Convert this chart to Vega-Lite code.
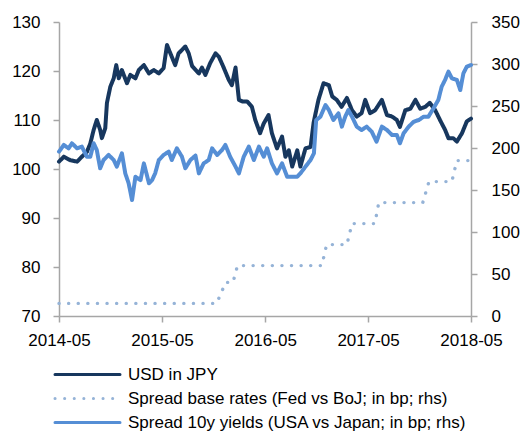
{
  "$schema": "https://vega.github.io/schema/vega-lite/v6.json",
  "width": 412,
  "height": 294,
  "autosize": {"type": "none"},
  "padding": {"left": 59, "top": 22, "right": 50, "bottom": 118},
  "config": {
    "view": {"stroke": null},
    "font": "Liberation Sans",
    "axis": {
      "labelFont": "Liberation Sans",
      "labelFontSize": 17,
      "labelColor": "#000000",
      "domainColor": "#A6A6A6",
      "domainWidth": 1.5,
      "tickColor": "#A6A6A6",
      "tickWidth": 1.5,
      "tickSize": 6,
      "grid": false,
      "title": null
    }
  },
  "layer": [
    {
      "data": {"values": [
        {"d": "2014-05-01", "s": "usd", "v": 101.5},
        {"d": "2014-05-18", "s": "usd", "v": 102.5},
        {"d": "2014-06-10", "s": "usd", "v": 101.8},
        {"d": "2014-07-04", "s": "usd", "v": 101.5},
        {"d": "2014-07-21", "s": "usd", "v": 102.5},
        {"d": "2014-08-08", "s": "usd", "v": 103.5},
        {"d": "2014-08-20", "s": "usd", "v": 105.2},
        {"d": "2014-09-01", "s": "usd", "v": 108},
        {"d": "2014-09-12", "s": "usd", "v": 110},
        {"d": "2014-09-24", "s": "usd", "v": 108},
        {"d": "2014-09-30", "s": "usd", "v": 106.3},
        {"d": "2014-10-12", "s": "usd", "v": 108.3},
        {"d": "2014-10-18", "s": "usd", "v": 113.5},
        {"d": "2014-10-30", "s": "usd", "v": 116.8},
        {"d": "2014-11-11", "s": "usd", "v": 118.5},
        {"d": "2014-11-20", "s": "usd", "v": 121.2},
        {"d": "2014-11-29", "s": "usd", "v": 118.5},
        {"d": "2014-12-10", "s": "usd", "v": 120.2},
        {"d": "2014-12-28", "s": "usd", "v": 117.5},
        {"d": "2015-01-09", "s": "usd", "v": 119.2},
        {"d": "2015-01-27", "s": "usd", "v": 118.5},
        {"d": "2015-02-08", "s": "usd", "v": 120.2},
        {"d": "2015-02-26", "s": "usd", "v": 121.2},
        {"d": "2015-03-16", "s": "usd", "v": 119.5},
        {"d": "2015-04-02", "s": "usd", "v": 120.2},
        {"d": "2015-04-20", "s": "usd", "v": 119.5},
        {"d": "2015-05-07", "s": "usd", "v": 120.6},
        {"d": "2015-05-19", "s": "usd", "v": 125.3},
        {"d": "2015-05-31", "s": "usd", "v": 123.6},
        {"d": "2015-06-17", "s": "usd", "v": 121.2},
        {"d": "2015-06-29", "s": "usd", "v": 123.6},
        {"d": "2015-07-23", "s": "usd", "v": 125},
        {"d": "2015-08-04", "s": "usd", "v": 123.6},
        {"d": "2015-08-16", "s": "usd", "v": 121},
        {"d": "2015-09-09", "s": "usd", "v": 119.5},
        {"d": "2015-09-20", "s": "usd", "v": 120.7},
        {"d": "2015-10-02", "s": "usd", "v": 119.2},
        {"d": "2015-10-19", "s": "usd", "v": 121.6},
        {"d": "2015-11-07", "s": "usd", "v": 123.6},
        {"d": "2015-11-19", "s": "usd", "v": 122.9},
        {"d": "2015-12-06", "s": "usd", "v": 120.7},
        {"d": "2015-12-24", "s": "usd", "v": 118.2},
        {"d": "2016-01-04", "s": "usd", "v": 117.1},
        {"d": "2016-01-17", "s": "usd", "v": 120.7},
        {"d": "2016-01-29", "s": "usd", "v": 114.1},
        {"d": "2016-02-10", "s": "usd", "v": 113.8},
        {"d": "2016-02-27", "s": "usd", "v": 113.8},
        {"d": "2016-03-15", "s": "usd", "v": 112.7},
        {"d": "2016-03-27", "s": "usd", "v": 110},
        {"d": "2016-04-13", "s": "usd", "v": 107.3},
        {"d": "2016-04-26", "s": "usd", "v": 109.3},
        {"d": "2016-05-13", "s": "usd", "v": 111},
        {"d": "2016-05-25", "s": "usd", "v": 107.3},
        {"d": "2016-06-12", "s": "usd", "v": 104.2},
        {"d": "2016-06-30", "s": "usd", "v": 106.6},
        {"d": "2016-07-12", "s": "usd", "v": 102.5},
        {"d": "2016-07-24", "s": "usd", "v": 103.8},
        {"d": "2016-08-05", "s": "usd", "v": 100.5},
        {"d": "2016-08-23", "s": "usd", "v": 103.8},
        {"d": "2016-09-03", "s": "usd", "v": 100.5},
        {"d": "2016-09-21", "s": "usd", "v": 104.2},
        {"d": "2016-10-09", "s": "usd", "v": 104.5},
        {"d": "2016-10-20", "s": "usd", "v": 109.5},
        {"d": "2016-11-06", "s": "usd", "v": 114.1},
        {"d": "2016-11-24", "s": "usd", "v": 117.5},
        {"d": "2016-12-13", "s": "usd", "v": 117.1},
        {"d": "2016-12-25", "s": "usd", "v": 114.8},
        {"d": "2017-01-10", "s": "usd", "v": 114.1},
        {"d": "2017-01-27", "s": "usd", "v": 112.7},
        {"d": "2017-02-15", "s": "usd", "v": 114.5},
        {"d": "2017-03-05", "s": "usd", "v": 112},
        {"d": "2017-03-22", "s": "usd", "v": 110.7},
        {"d": "2017-04-08", "s": "usd", "v": 111.4},
        {"d": "2017-04-21", "s": "usd", "v": 114.1},
        {"d": "2017-05-08", "s": "usd", "v": 111.4},
        {"d": "2017-05-26", "s": "usd", "v": 112},
        {"d": "2017-06-19", "s": "usd", "v": 114.1},
        {"d": "2017-07-07", "s": "usd", "v": 111},
        {"d": "2017-07-25", "s": "usd", "v": 110.7},
        {"d": "2017-08-11", "s": "usd", "v": 110},
        {"d": "2017-08-22", "s": "usd", "v": 108.6},
        {"d": "2017-09-10", "s": "usd", "v": 112},
        {"d": "2017-09-28", "s": "usd", "v": 112.3},
        {"d": "2017-10-16", "s": "usd", "v": 114.1},
        {"d": "2017-11-02", "s": "usd", "v": 112.3},
        {"d": "2017-11-20", "s": "usd", "v": 112.7},
        {"d": "2017-12-06", "s": "usd", "v": 113.5},
        {"d": "2017-12-25", "s": "usd", "v": 112},
        {"d": "2018-01-11", "s": "usd", "v": 110},
        {"d": "2018-01-29", "s": "usd", "v": 108},
        {"d": "2018-02-10", "s": "usd", "v": 106.3},
        {"d": "2018-02-27", "s": "usd", "v": 106.3},
        {"d": "2018-03-12", "s": "usd", "v": 105.6},
        {"d": "2018-03-30", "s": "usd", "v": 107.3},
        {"d": "2018-04-16", "s": "usd", "v": 109.7},
        {"d": "2018-05-01", "s": "usd", "v": 110.3}
      ]},
      "mark": {"type": "line", "strokeWidth": 4, "strokeCap": "round", "strokeJoin": "round"},
      "encoding": {
        "x": {
          "field": "d", "type": "temporal",
          "scale": {"type": "utc", "domain": [{"year": 2014, "month": 5, "date": 1, "utc": true}, {"year": 2018, "month": 5, "date": 1, "utc": true}]},
          "axis": {
            "values": [
              {"year": 2014, "month": 5, "date": 1, "utc": true},
              {"year": 2015, "month": 5, "date": 1, "utc": true},
              {"year": 2016, "month": 5, "date": 1, "utc": true},
              {"year": 2017, "month": 5, "date": 1, "utc": true},
              {"year": 2018, "month": 5, "date": 1, "utc": true}
            ],
            "format": "%Y-%m", "labelPadding": 10, "labelFlush": false, "labelOverlap": false
          }
        },
        "y": {
          "field": "v", "type": "quantitative",
          "scale": {"domain": [70, 130], "nice": false, "zero": false},
          "axis": {"orient": "left", "values": [70, 80, 90, 100, 110, 120, 130], "labelPadding": 13}
        },
        "color": {
          "field": "s", "type": "nominal",
          "scale": {"domain": ["usd", "base", "y10"], "range": ["#17375E", "#95B3D7", "#558ED5"]},
          "legend": {
            "orient": "none", "legendX": 20, "legendY": 344, "title": null, "direction": "vertical",
            "labelFont": "Liberation Sans", "labelFontSize": 17, "labelColor": "#000000", "labelLimit": 600,
            "symbolType": "M-5,0H5", "symbolSize": 169, "symbolStrokeWidth": 3, "rowPadding": 6, "labelOffset": 32,
            "labelExpr": "datum.value == 'usd' ? 'USD in JPY' : datum.value == 'base' ? 'Spread base rates (Fed vs BoJ; in bp; rhs)' : 'Spread 10y yields (USA vs Japan; in bp; rhs)'",
            "encode": {"symbols": {"update": {"strokeCap": {"value": "round"}, "strokeWidth": {"value": 3}}}}
          }
        },
        "strokeDash": {
          "field": "s", "type": "nominal",
          "scale": {"domain": ["usd", "base", "y10"], "range": [[1, 0], [0.1, 9.5], [1, 0]]},
          "legend": {
            "orient": "none", "legendX": 20, "legendY": 344, "title": null, "direction": "vertical",
            "labelFont": "Liberation Sans", "labelFontSize": 17, "labelColor": "#000000", "labelLimit": 600,
            "symbolType": "M-5,0H5", "symbolSize": 169, "symbolStrokeWidth": 3, "rowPadding": 6, "labelOffset": 32,
            "labelExpr": "datum.value == 'usd' ? 'USD in JPY' : datum.value == 'base' ? 'Spread base rates (Fed vs BoJ; in bp; rhs)' : 'Spread 10y yields (USA vs Japan; in bp; rhs)'",
            "encode": {"symbols": {"update": {"strokeCap": {"value": "round"}, "strokeWidth": {"value": 3}}}}
          }
        }
      }
    },
    {
      "layer": [
        {
          "data": {"values": [
            {"d": "2014-05-01", "s": "base", "v": 15},
            {"d": "2015-11-11", "s": "base", "v": 15},
            {"d": "2015-12-13", "s": "base", "v": 40},
            {"d": "2016-01-08", "s": "base", "v": 40},
            {"d": "2016-01-24", "s": "base", "v": 60},
            {"d": "2016-11-18", "s": "base", "v": 60},
            {"d": "2016-12-05", "s": "base", "v": 85},
            {"d": "2017-02-15", "s": "base", "v": 85},
            {"d": "2017-03-05", "s": "base", "v": 110},
            {"d": "2017-05-25", "s": "base", "v": 110},
            {"d": "2017-06-08", "s": "base", "v": 135},
            {"d": "2017-11-11", "s": "base", "v": 135},
            {"d": "2017-12-03", "s": "base", "v": 160},
            {"d": "2018-02-22", "s": "base", "v": 160},
            {"d": "2018-03-12", "s": "base", "v": 185},
            {"d": "2018-05-01", "s": "base", "v": 185}
          ]},
          "mark": {"type": "line", "strokeWidth": 3.4, "strokeCap": "round", "strokeJoin": "round"},
          "encoding": {
            "x": {"field": "d", "type": "temporal"},
            "y": {
              "field": "v", "type": "quantitative",
              "scale": {"domain": [0, 350], "nice": false},
              "axis": {"orient": "right", "values": [0, 50, 100, 150, 200, 250, 300, 350], "labelPadding": 14}
            },
            "color": {"field": "s", "type": "nominal"},
            "strokeDash": {"field": "s", "type": "nominal"}
          }
        },
        {
          "data": {"values": [
            {"d": "2014-05-01", "s": "y10", "v": 195.6},
            {"d": "2014-05-18", "s": "y10", "v": 203.6},
            {"d": "2014-06-04", "s": "y10", "v": 199.6},
            {"d": "2014-06-16", "s": "y10", "v": 205.6},
            {"d": "2014-07-04", "s": "y10", "v": 199.6},
            {"d": "2014-07-21", "s": "y10", "v": 201.6},
            {"d": "2014-08-08", "s": "y10", "v": 189.6},
            {"d": "2014-08-20", "s": "y10", "v": 189.6},
            {"d": "2014-09-01", "s": "y10", "v": 205.6},
            {"d": "2014-09-12", "s": "y10", "v": 197.6},
            {"d": "2014-09-24", "s": "y10", "v": 175.8},
            {"d": "2014-10-06", "s": "y10", "v": 185.7},
            {"d": "2014-10-24", "s": "y10", "v": 191.7},
            {"d": "2014-11-11", "s": "y10", "v": 185.7},
            {"d": "2014-11-22", "s": "y10", "v": 177.8},
            {"d": "2014-12-10", "s": "y10", "v": 193.7},
            {"d": "2014-12-22", "s": "y10", "v": 169.8},
            {"d": "2015-01-03", "s": "y10", "v": 158},
            {"d": "2015-01-15", "s": "y10", "v": 138},
            {"d": "2015-01-27", "s": "y10", "v": 165.8},
            {"d": "2015-02-14", "s": "y10", "v": 161.7},
            {"d": "2015-02-26", "s": "y10", "v": 181.7},
            {"d": "2015-03-16", "s": "y10", "v": 158},
            {"d": "2015-03-27", "s": "y10", "v": 161.7},
            {"d": "2015-04-07", "s": "y10", "v": 169.8},
            {"d": "2015-04-20", "s": "y10", "v": 185.7},
            {"d": "2015-05-07", "s": "y10", "v": 191.7},
            {"d": "2015-05-25", "s": "y10", "v": 195.6},
            {"d": "2015-06-05", "s": "y10", "v": 185.7},
            {"d": "2015-06-23", "s": "y10", "v": 199.6},
            {"d": "2015-07-11", "s": "y10", "v": 189.6},
            {"d": "2015-07-23", "s": "y10", "v": 175.8},
            {"d": "2015-08-10", "s": "y10", "v": 185.7},
            {"d": "2015-08-28", "s": "y10", "v": 191},
            {"d": "2015-09-09", "s": "y10", "v": 169.8},
            {"d": "2015-09-26", "s": "y10", "v": 181.7},
            {"d": "2015-10-14", "s": "y10", "v": 185.7},
            {"d": "2015-10-26", "s": "y10", "v": 199.6},
            {"d": "2015-11-13", "s": "y10", "v": 191.7},
            {"d": "2015-11-30", "s": "y10", "v": 197.6},
            {"d": "2015-12-12", "s": "y10", "v": 203.6},
            {"d": "2015-12-29", "s": "y10", "v": 189.6},
            {"d": "2016-01-17", "s": "y10", "v": 177.8},
            {"d": "2016-01-29", "s": "y10", "v": 169.8},
            {"d": "2016-02-15", "s": "y10", "v": 189.6},
            {"d": "2016-03-04", "s": "y10", "v": 201.6},
            {"d": "2016-03-22", "s": "y10", "v": 185.7},
            {"d": "2016-04-09", "s": "y10", "v": 201.6},
            {"d": "2016-04-26", "s": "y10", "v": 189.6},
            {"d": "2016-05-08", "s": "y10", "v": 199.6},
            {"d": "2016-05-25", "s": "y10", "v": 181.7},
            {"d": "2016-06-12", "s": "y10", "v": 169.8},
            {"d": "2016-06-30", "s": "y10", "v": 181.7},
            {"d": "2016-07-18", "s": "y10", "v": 165.8},
            {"d": "2016-08-04", "s": "y10", "v": 165.8},
            {"d": "2016-08-23", "s": "y10", "v": 165.8},
            {"d": "2016-09-03", "s": "y10", "v": 169.8},
            {"d": "2016-09-21", "s": "y10", "v": 177.8},
            {"d": "2016-10-09", "s": "y10", "v": 185.7},
            {"d": "2016-10-21", "s": "y10", "v": 193.7},
            {"d": "2016-10-29", "s": "y10", "v": 233.3},
            {"d": "2016-11-13", "s": "y10", "v": 237.3},
            {"d": "2016-12-01", "s": "y10", "v": 251.2},
            {"d": "2016-12-13", "s": "y10", "v": 245.2},
            {"d": "2016-12-29", "s": "y10", "v": 233.3},
            {"d": "2017-01-16", "s": "y10", "v": 241.3},
            {"d": "2017-01-28", "s": "y10", "v": 225.4},
            {"d": "2017-02-09", "s": "y10", "v": 237.3},
            {"d": "2017-02-20", "s": "y10", "v": 245.2},
            {"d": "2017-03-05", "s": "y10", "v": 237.3},
            {"d": "2017-03-22", "s": "y10", "v": 225.4},
            {"d": "2017-04-08", "s": "y10", "v": 221.4},
            {"d": "2017-04-26", "s": "y10", "v": 225.4},
            {"d": "2017-05-14", "s": "y10", "v": 219.4},
            {"d": "2017-05-31", "s": "y10", "v": 207.5},
            {"d": "2017-06-19", "s": "y10", "v": 225.4},
            {"d": "2017-07-07", "s": "y10", "v": 221.4},
            {"d": "2017-07-25", "s": "y10", "v": 215.5},
            {"d": "2017-08-11", "s": "y10", "v": 215.5},
            {"d": "2017-08-22", "s": "y10", "v": 205.6},
            {"d": "2017-09-04", "s": "y10", "v": 217.5},
            {"d": "2017-09-22", "s": "y10", "v": 225.4},
            {"d": "2017-10-10", "s": "y10", "v": 231.3},
            {"d": "2017-10-28", "s": "y10", "v": 233.3},
            {"d": "2017-11-14", "s": "y10", "v": 237.3},
            {"d": "2017-12-01", "s": "y10", "v": 237.3},
            {"d": "2017-12-19", "s": "y10", "v": 247.2},
            {"d": "2018-01-05", "s": "y10", "v": 257.1},
            {"d": "2018-01-17", "s": "y10", "v": 273},
            {"d": "2018-01-29", "s": "y10", "v": 281},
            {"d": "2018-02-10", "s": "y10", "v": 290.9},
            {"d": "2018-02-22", "s": "y10", "v": 283},
            {"d": "2018-03-12", "s": "y10", "v": 281},
            {"d": "2018-03-24", "s": "y10", "v": 269},
            {"d": "2018-04-04", "s": "y10", "v": 288.9},
            {"d": "2018-04-16", "s": "y10", "v": 296.8},
            {"d": "2018-05-01", "s": "y10", "v": 298.8}
          ]},
          "mark": {"type": "line", "strokeWidth": 4, "strokeCap": "round", "strokeJoin": "round"},
          "encoding": {
            "x": {"field": "d", "type": "temporal"},
            "y": {
              "field": "v", "type": "quantitative",
              "scale": {"domain": [0, 350], "nice": false},
              "axis": {"orient": "right", "values": [0, 50, 100, 150, 200, 250, 300, 350], "labelPadding": 14}
            },
            "color": {"field": "s", "type": "nominal"},
            "strokeDash": {"field": "s", "type": "nominal"}
          }
        }
      ]
    }
  ],
  "resolve": {"scale": {"y": "independent"}}
}
